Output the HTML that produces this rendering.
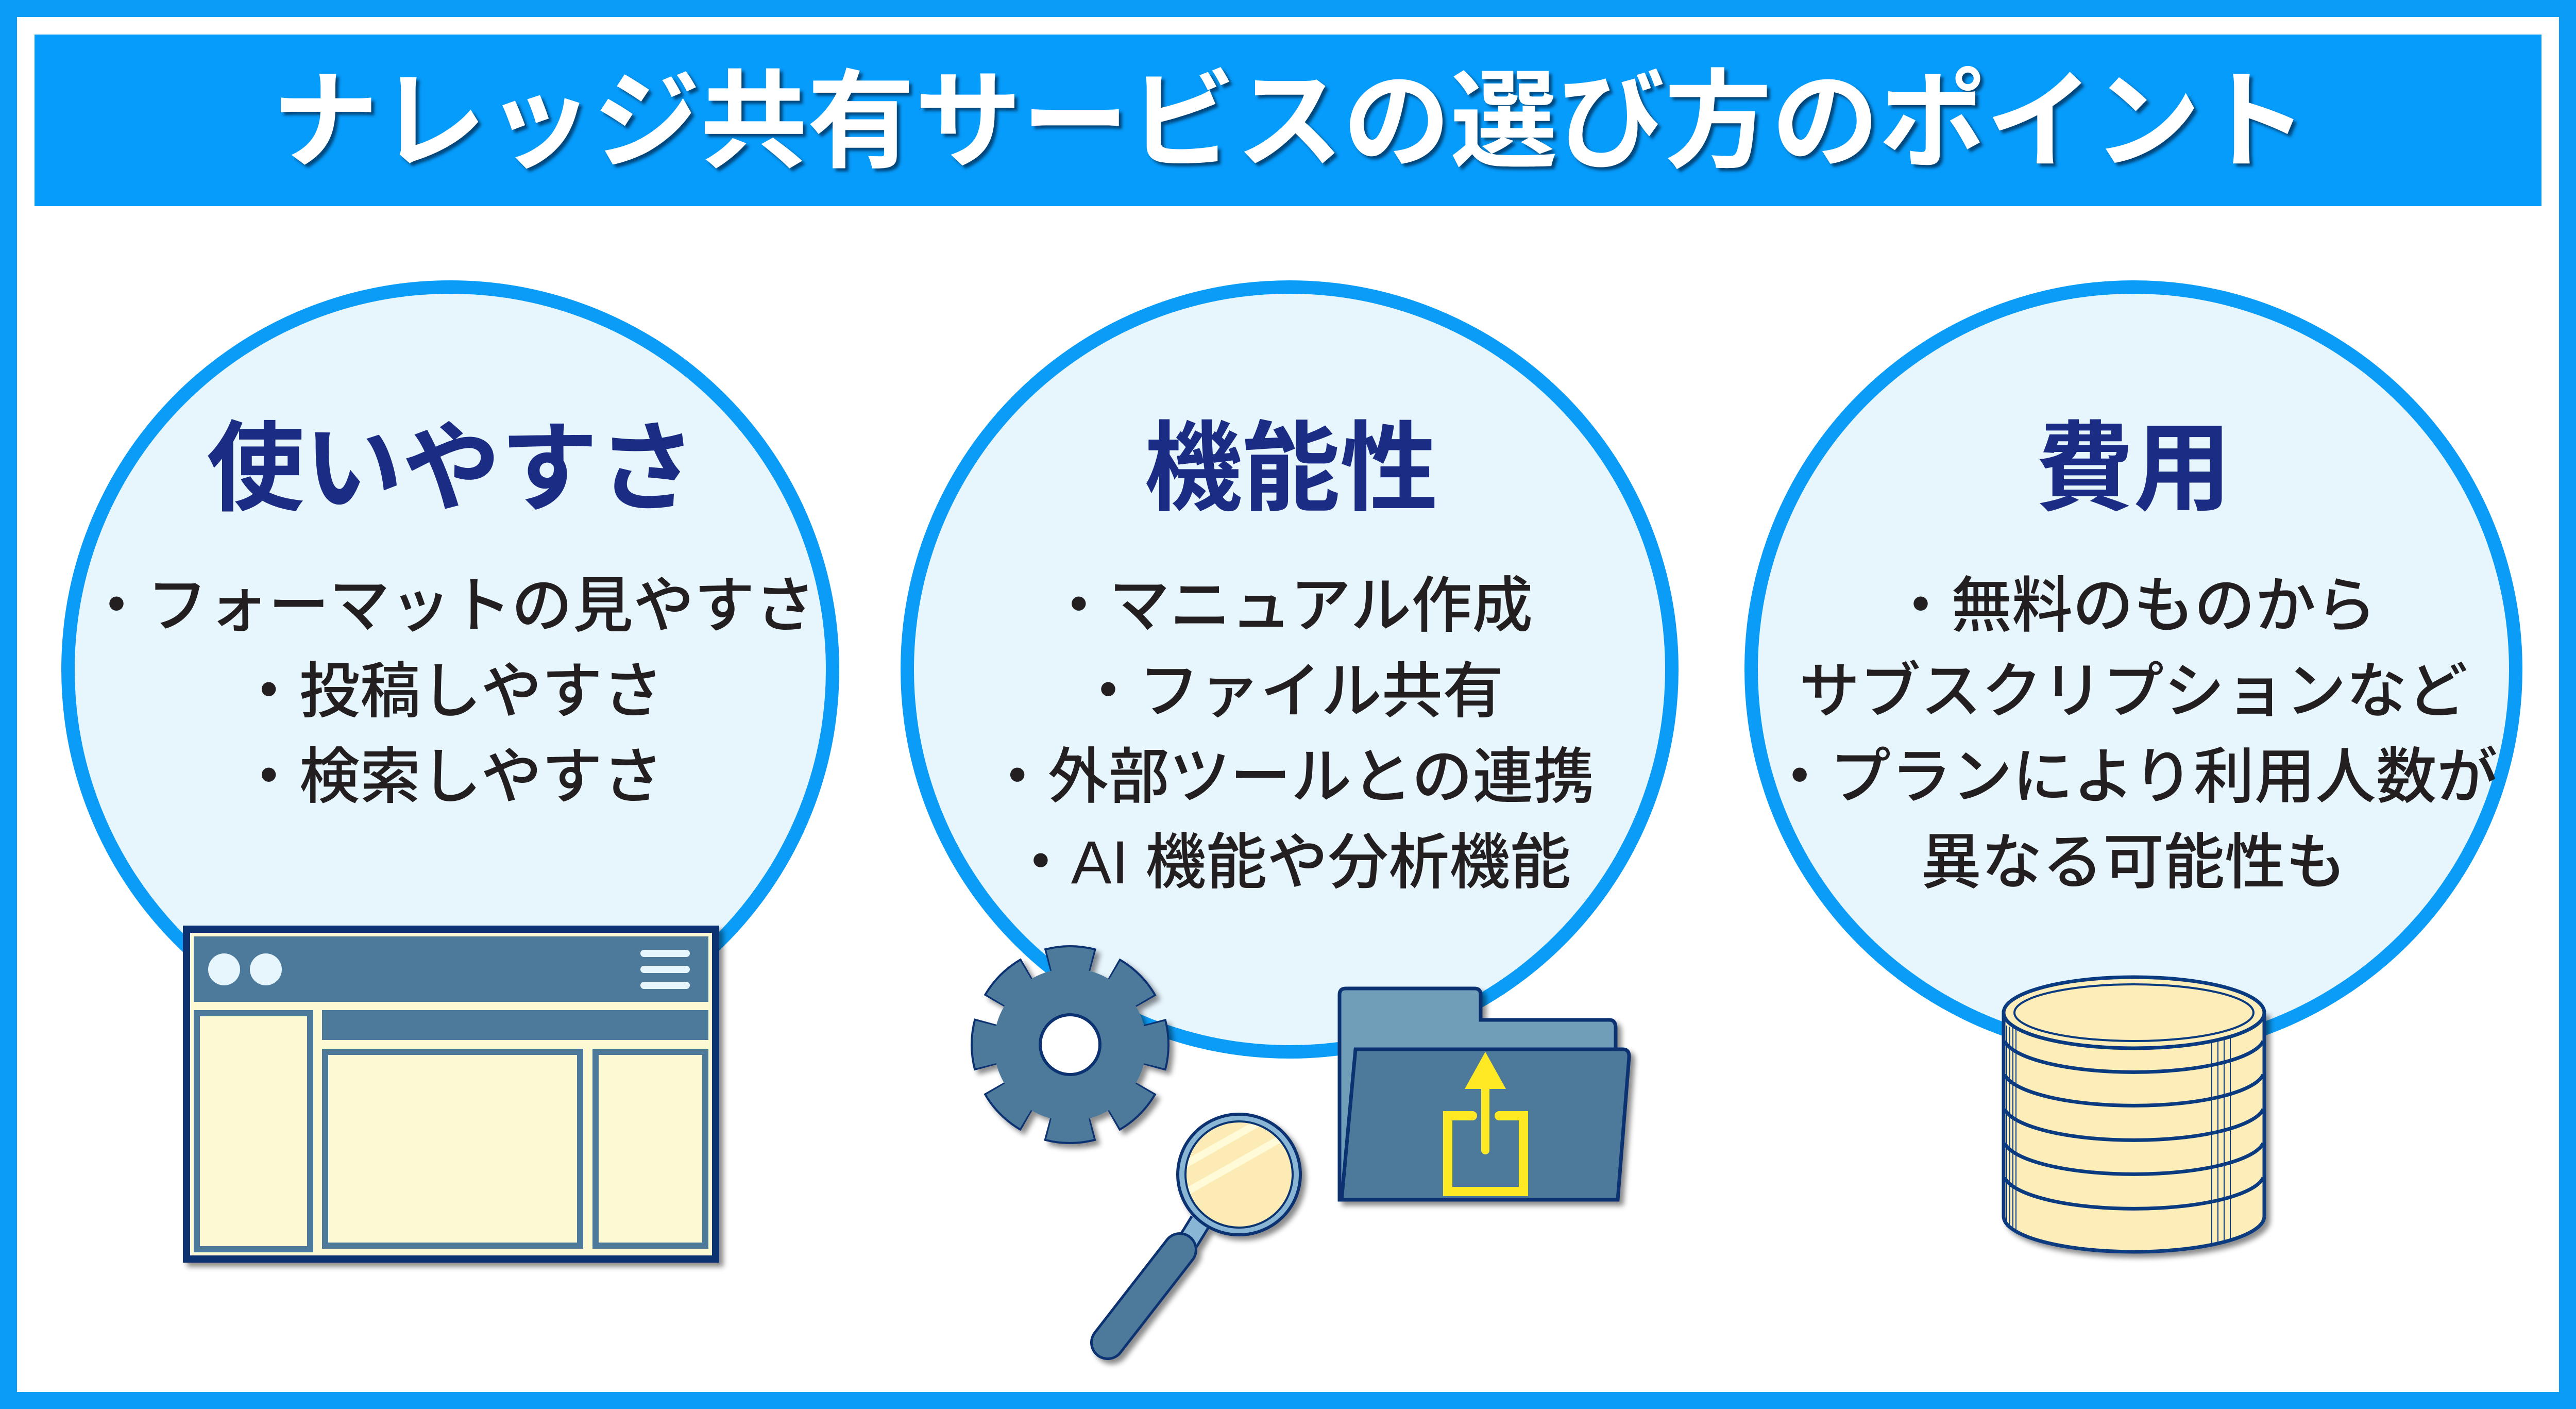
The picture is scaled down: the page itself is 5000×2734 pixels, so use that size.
<!DOCTYPE html>
<html><head><meta charset="utf-8"><style>html,body{margin:0;padding:0;background:#fff}svg{display:block}</style></head><body>
<svg width="5000" height="2734" viewBox="0 0 5000 2734" xmlns="http://www.w3.org/2000/svg">
<defs>
<filter id="sh" x="-10%" y="-10%" width="130%" height="130%"><feDropShadow dx="8" dy="8" stdDeviation="5" flood-color="#000" flood-opacity="0.45"/></filter>
<filter id="tsh"><feDropShadow dx="6" dy="6" stdDeviation="3" flood-color="#05305a" flood-opacity="0.8"/></filter>
</defs>
<rect x="0" y="0" width="5000" height="2734" fill="#0a9cf7"/>
<rect x="33" y="33" width="4934" height="2668" fill="#fff"/>
<rect x="67" y="67" width="4866" height="333" fill="#069cfb"/>
<text x="2503" y="308" text-anchor="middle" font-family="Liberation Sans, Noto Sans CJK JP, sans-serif" font-weight="bold" font-size="208" fill="#fff" filter="url(#tsh)">ナレッジ共有サービスの選び方のポイント</text>

<g fill="#e7f5fd" stroke="#0a9cf7" stroke-width="26">
<circle cx="874" cy="1299" r="742"/>
<circle cx="2503" cy="1299" r="742"/>
<circle cx="4141" cy="1299" r="742"/>
</g>

<g font-family="Liberation Sans, Noto Sans CJK JP, sans-serif" font-weight="bold" font-size="190" fill="#1b2c85" text-anchor="middle">
<text x="876" y="975">使いやすさ</text>
<text x="2506" y="975">機能性</text>
<text x="4141" y="975">費用</text>
</g>
<g font-family="Liberation Sans, Noto Sans CJK JP, sans-serif" font-weight="500" font-size="118" fill="#231f20" text-anchor="middle">
<text x="875" y="1216">・フォーマットの見やすさ</text>
<text x="875" y="1382">・投稿しやすさ</text>
<text x="875" y="1548">・検索しやすさ</text>
<text x="2505" y="1216">・マニュアル作成</text>
<text x="2505" y="1382">・ファイル共有</text>
<text x="2505" y="1548">・外部ツールとの連携</text>
<text x="2505" y="1714">・AI 機能や分析機能</text>
<text x="4141" y="1216">・無料のものから</text>
<text x="4141" y="1382">サブスクリプションなど</text>
<text x="4141" y="1548">・プランにより利用人数が</text>
<text x="4141" y="1714">異なる可能性も</text>
</g>

<!-- browser -->
<g filter="url(#sh)">
<rect x="362" y="1803" width="1027" height="640" fill="#fdf9d2" stroke="#0a3372" stroke-width="14"/>
</g>
<rect x="376" y="1817" width="999" height="127" fill="#4d7a9b"/>
<circle cx="435" cy="1881" r="31" fill="#e7f5fd"/>
<circle cx="516" cy="1881" r="31" fill="#e7f5fd"/>
<g fill="#e7f5fd"><rect x="1243" y="1843" width="96" height="14" rx="7"/><rect x="1243" y="1874" width="96" height="14" rx="7"/><rect x="1243" y="1905" width="96" height="14" rx="7"/></g>
<g fill="#fdf9d2" stroke="#4d7a9b" stroke-width="12">
<rect x="382" y="1966" width="220" height="458"/>
<rect x="631" y="2041" width="495" height="376"/>
<rect x="1156" y="2041" width="213" height="376"/>
</g>
<rect x="625" y="1960" width="750" height="58" fill="#4d7a9b"/>

<!-- gear -->
<g filter="url(#sh)">
<circle cx="2077" cy="2027" r="162" fill="none" stroke="#0a3372" stroke-width="62" stroke-dasharray="86 41.23" stroke-dashoffset="43"/>
<circle cx="2077" cy="2027" r="162" fill="none" stroke="#4d7a9b" stroke-width="54" stroke-dasharray="80 47.23" stroke-dashoffset="40"/>
<circle cx="2077" cy="2027" r="148" fill="#4d7a9b"/>
<circle cx="2077" cy="2027" r="58" fill="#fff" stroke="#0a3372" stroke-width="6"/>
</g>

<!-- magnifier -->
<g filter="url(#sh)">
<line x1="2330" y1="2370" x2="2290" y2="2435" stroke="#0a3372" stroke-width="44"/>
<line x1="2330" y1="2370" x2="2290" y2="2435" stroke="#8ab6d6" stroke-width="34"/>
<line x1="2290" y1="2425" x2="2150" y2="2605" stroke="#0a3372" stroke-width="68" stroke-linecap="round"/>
<line x1="2290" y1="2425" x2="2150" y2="2605" stroke="#4d7a9b" stroke-width="58" stroke-linecap="round"/>
<ellipse cx="2405" cy="2279" rx="119" ry="117" fill="#8ab6d6" stroke="#0a3372" stroke-width="6"/>
</g>
<ellipse cx="2405" cy="2279" rx="104" ry="103" fill="#fdebb5" stroke="#0a3372" stroke-width="4"/>
<clipPath id="lens"><ellipse cx="2405" cy="2279" rx="102" ry="101"/></clipPath>
<g clip-path="url(#lens)" stroke="#fffbd8" stroke-width="14">
<line x1="2290" y1="2265" x2="2520" y2="2135"/>
<line x1="2290" y1="2320" x2="2520" y2="2190"/>
</g>

<!-- folder -->
<g filter="url(#sh)">
<path d="M2600 2328 L2600 1930 Q2600 1918 2612 1918 L2862 1918 Q2874 1918 2874 1930 L2874 1979 L3124 1979 Q3136 1979 3136 1995 L3136 2328 Z" fill="#6f9db8" stroke="#0a3372" stroke-width="7"/>
<path d="M2631 2036 L3150 2036 Q3163 2036 3162 2052 L3140 2328 L2604 2328 Z" fill="#4d7a9b" stroke="#0a3372" stroke-width="7"/>
</g>
<path d="M2858 2165 L2810 2165 L2810 2312 L2957 2312 L2957 2165 L2910 2165" fill="none" stroke="#ffe924" stroke-width="18" stroke-linecap="round"/>
<line x1="2883" y1="2232" x2="2883" y2="2105" stroke="#ffe924" stroke-width="16" stroke-linecap="round"/>
<polygon points="2883,2041 2843,2113 2923,2113" fill="#ffe924"/>

<!-- coins -->
<g stroke="#0a3a80" stroke-width="7" fill="#fdedb8">
<path d="M3889 1965 L3889 2360 A253 69 0 0 0 4395 2360 L4395 1965 Z" filter="url(#sh)"/>
<path d="M3891 2020 A253 69 0 0 0 4393 2020" fill="none"/>
<path d="M3891 2085 A253 69 0 0 0 4393 2085" fill="none"/>
<path d="M3891 2152 A253 69 0 0 0 4393 2152" fill="none"/>
<path d="M3891 2218 A253 69 0 0 0 4393 2218" fill="none"/>
<path d="M3891 2285 A253 69 0 0 0 4393 2285" fill="none"/>
<ellipse cx="4142" cy="1965" rx="253" ry="69"/>
<ellipse cx="4142" cy="1965" rx="232" ry="55" stroke-width="4"/>
</g>
<g stroke="#0a3a80" stroke-width="2">
<line x1="3895" y1="1990" x2="3895" y2="2380"/><line x1="3901" y1="1992" x2="3901" y2="2383"/><line x1="3907" y1="1994" x2="3907" y2="2386"/><line x1="3913" y1="1996" x2="3913" y2="2388"/>
<line x1="4293" y1="2018" x2="4293" y2="2412"/><line x1="4305" y1="2016" x2="4305" y2="2410"/><line x1="4317" y1="2013" x2="4317" y2="2408"/><line x1="4329" y1="2010" x2="4329" y2="2405"/>
</g>
</svg>
</body></html>
